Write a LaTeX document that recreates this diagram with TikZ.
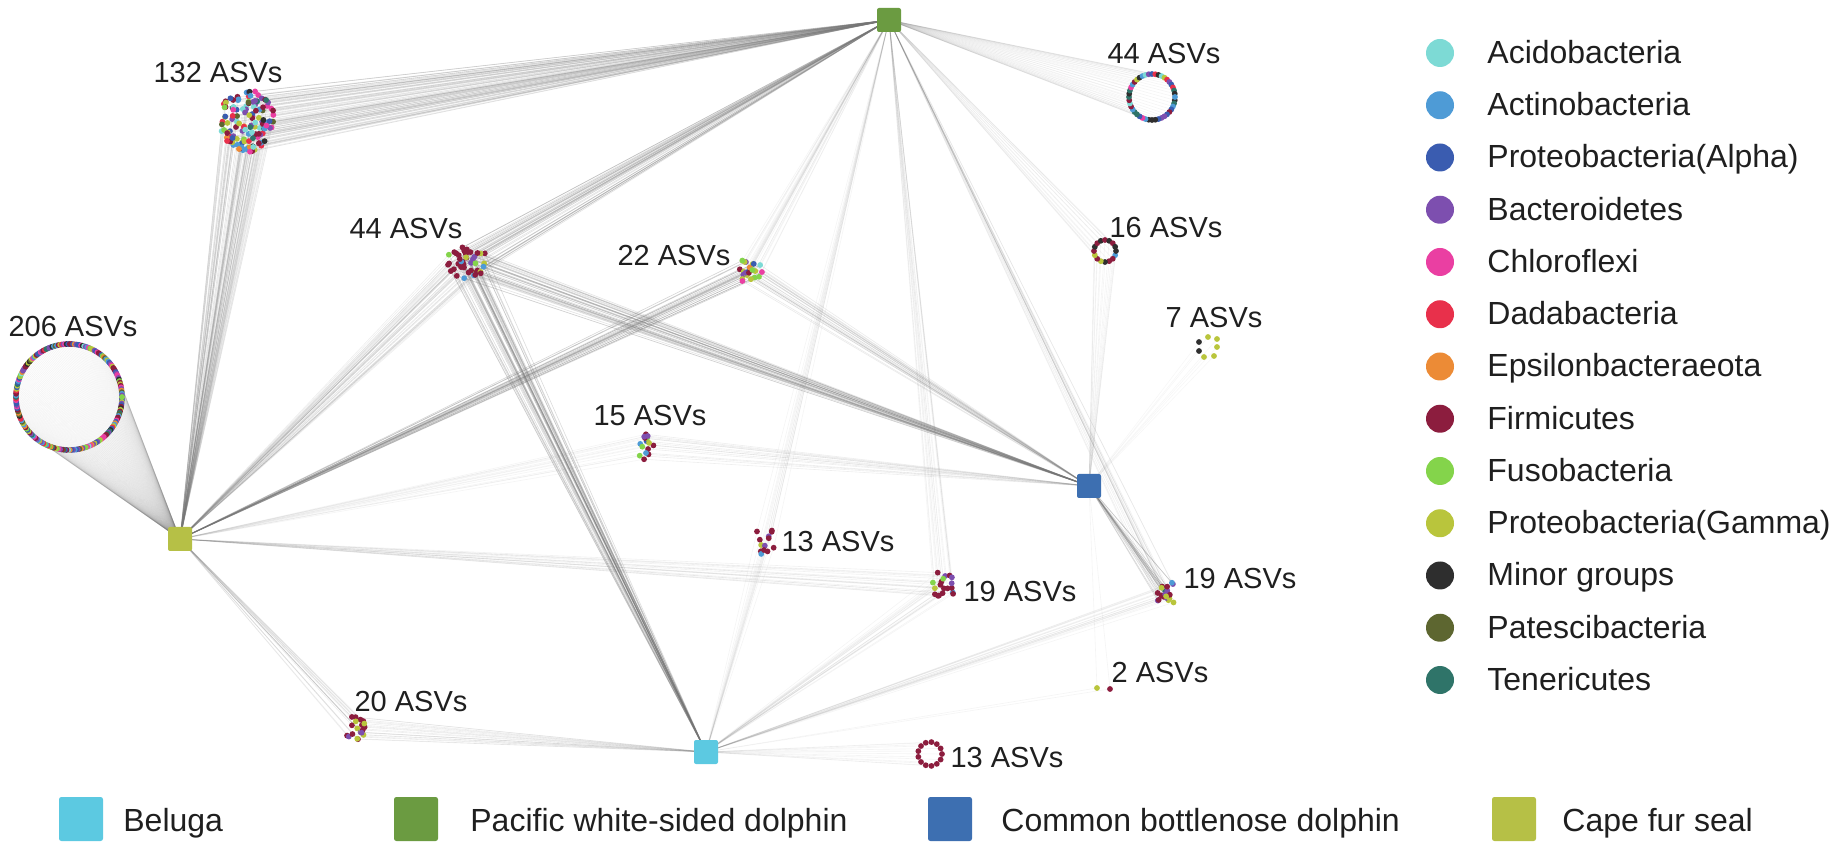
\documentclass[tikz,border=0pt]{standalone}
\usepackage{fontspec}
\setmainfont{Liberation Sans}
\pgfdeclarelayer{bg}
\pgfsetlayers{bg,main}
\definecolor{k0}{HTML}{7DDAD5}
\definecolor{k1}{HTML}{4E9BD6}
\definecolor{k2}{HTML}{3A5CB0}
\definecolor{k3}{HTML}{7D4FAF}
\definecolor{k4}{HTML}{EA3FA2}
\definecolor{k5}{HTML}{E8304B}
\definecolor{k6}{HTML}{EC8B36}
\definecolor{k7}{HTML}{8C1D3E}
\definecolor{k8}{HTML}{84D44B}
\definecolor{k9}{HTML}{B9C53C}
\definecolor{k10}{HTML}{2E2E2E}
\definecolor{k11}{HTML}{5D6630}
\definecolor{k12}{HTML}{2F7469}
\definecolor{beluga}{HTML}{5CC9E1}
\definecolor{pacific}{HTML}{6B9B41}
\definecolor{bottlenose}{HTML}{3D6FB1}
\definecolor{seal}{HTML}{B6C046}
\tikzset{
  dot/.style={circle,inner sep=0pt,minimum size=2.9pt,draw=none},
  sq/.style={rectangle,rounded corners=1pt,minimum size=12pt,inner sep=0pt,draw=none},
  lsq/.style={rectangle,rounded corners=1.2pt,minimum size=22pt,inner sep=0pt,draw=none},
  lab/.style={font=\fontsize{14.5pt}{16pt}\selectfont,inner sep=0pt,text=black!88},
  ltext/.style={font=\fontsize{16pt}{18pt}\selectfont,inner sep=0pt,text=black!88},
  ldot/.style={circle,inner sep=0pt,minimum size=14pt,draw=none},
  edge/.style={draw=black!55,line width=0.3pt},
}
\newcommand\blobcl[8]{%
  \foreach \i in {1,...,#2}{%
    \pgfmathsetmacro\ang{rnd*360}%
    \pgfmathsetmacro\rr{sqrt(rnd)}%
    \pgfmathtruncatemacro\ci{{#7}[random(0,#8-1)]}%
    \node[dot,fill=k\ci] (#1-\i) at ({#3+#5*\rr*cos(\ang)},{#4+#6*\rr*sin(\ang)}) {};
  }}
\newcommand\ringcl[7]{%
  \foreach \i in {1,...,#2}{%
    \pgfmathsetmacro\ang{360*(\i/#2)}%
    \pgfmathtruncatemacro\ci{{#6}[random(0,#7-1)]}%
    \node[dot,fill=k\ci] (#1-\i) at ({#3+#5*cos(\ang)},{#4+#5*sin(\ang)}) {};
  }}
\newcommand\edges[4]{%
  \foreach \i in {1,...,#2}{\draw[edge,opacity=#4] (#1-\i.center) -- (#3.center);}}
\begin{document}
\begin{tikzpicture}[x=0.5pt,y=-0.5pt]
\pgfmathsetseed{12345}
\useasboundingbox (0,0) rectangle (1842,849);
% species nodes
\node[sq,fill=pacific] (P) at (889,20) {};
\node[sq,fill=seal] (S) at (180,539) {};
\node[sq,fill=bottlenose] (B) at (1089,486) {};
\node[sq,fill=beluga] (W) at (706,752) {};
% clusters
\ringcl{A}{206}{69}{397}{53}{0,1,1,2,2,3,3,4,4,5,6,7,7,7,8,9,9,10,11,12}{20}
\node[lab] (lA) at (73,327) {206 ASVs};
\blobcl{Bc}{132}{247}{121}{28}{31}{0,1,1,2,2,3,3,4,4,5,6,7,7,7,8,9,9,10,11,12}{20}
\node[lab] (lB) at (218,73) {132 ASVs};
\ringcl{C}{44}{1152}{97}{23}{0,1,1,1,2,2,3,4,5,7,7,9,9,10,12}{15}
\node[lab] (lC) at (1164,54) {44 ASVs};
\blobcl{D}{44}{467}{261}{20}{18}{7,7,7,7,7,7,7,7,7,9,1,8,3}{13}
\node[lab] (lD) at (406,229) {44 ASVs};
\blobcl{E}{22}{748}{270}{15}{12}{9,9,8,8,1,1,2,4,3,7,7,6,0}{13}
\node[lab] (lE) at (674,256) {22 ASVs};
\ringcl{F}{16}{1105}{251}{11}{7,7,7,7,7,10,10,9,1}{9}
\node[lab] (lF) at (1166,228) {16 ASVs};
\foreach \i/\px/\py/\k in {1/1208/337/9,2/1217/339/9,3/1217/347/9,4/1214/356/9,5/1204/357/9,6/1199/342/10,7/1199/351/10}
  \node[dot,fill=k\k] (G-\i) at (\px,\py) {};
\node[lab] (lG) at (1214,318) {7 ASVs};
\blobcl{H}{15}{646}{446}{9}{14}{7,7,7,7,7,1,2,9,8,3}{10}
\node[lab] (lH) at (650,416) {15 ASVs};
\blobcl{I}{13}{765}{541}{11}{16}{7,7,7,7,7,7,1,3,9}{9}
\node[lab] (lI) at (838,542) {13 ASVs};
\blobcl{J}{19}{943}{585}{13}{14}{7,7,7,7,7,7,3,1,9,8}{10}
\node[lab] (lJ) at (1020,592) {19 ASVs};
\blobcl{K}{19}{1167}{593}{12}{12}{7,7,7,7,7,12,9,3,1}{9}
\node[lab] (lK) at (1240,579) {19 ASVs};
\node[dot,fill=k9] (L-1) at (1097,688) {};
\node[dot,fill=k7] (L-2) at (1110,689) {};
\node[lab] (lL) at (1160,673) {2 ASVs};
\blobcl{M}{20}{356}{728}{11}{14}{7,7,7,7,7,7,3,9}{8}
\node[lab] (lM) at (411,702) {20 ASVs};
\ringcl{N}{13}{930}{754}{12}{7,7}{2}
\node[lab] (lN) at (1007,758) {13 ASVs};
% connectors
\begin{pgfonlayer}{bg}
\edges{A}{206}{S}{0.08}
\edges{Bc}{132}{P}{0.12}
\edges{Bc}{132}{S}{0.1}
\edges{C}{44}{P}{0.08}
\edges{D}{44}{P}{0.2}
\edges{D}{44}{S}{0.12}
\edges{D}{44}{W}{0.25}
\edges{D}{44}{B}{0.2}
\edges{E}{22}{P}{0.08}
\edges{E}{22}{S}{0.3}
\edges{E}{22}{B}{0.15}
\edges{F}{16}{P}{0.08}
\edges{F}{16}{B}{0.08}
\edges{G}{7}{B}{0.06}
\edges{H}{15}{S}{0.08}
\edges{H}{15}{B}{0.12}
\edges{I}{13}{P}{0.08}
\edges{I}{13}{W}{0.08}
\edges{J}{19}{P}{0.08}
\edges{J}{19}{S}{0.1}
\edges{J}{19}{W}{0.08}
\edges{K}{19}{P}{0.1}
\edges{K}{19}{B}{0.25}
\edges{K}{19}{W}{0.08}
\edges{L}{2}{B}{0.08}
\edges{L}{2}{W}{0.08}
\edges{M}{20}{S}{0.12}
\edges{M}{20}{W}{0.12}
\edges{N}{13}{W}{0.08}
\end{pgfonlayer}
% right legend
\foreach \j/\k/\t in {0/0/Acidobacteria,1/1/Actinobacteria,2/2/Proteobacteria(Alpha),3/3/Bacteroidetes,4/4/Chloroflexi,5/5/Dadabacteria,6/6/Epsilonbacteraeota,7/7/Firmicutes,8/8/Fusobacteria,9/9/Proteobacteria(Gamma),10/10/Minor groups,11/11/Patescibacteria,12/12/Tenericutes}{
  \node[ldot,fill=k\k] (ld\j) at (1440,{53+52.25*\j}) {};
  \node[ltext,anchor=base west] (lt\j) at (1487,{63.5+52.25*\j}) {\t};
}
% bottom legend
\node[lsq,fill=beluga] (kW) at (81,819) {};
\node[ltext,anchor=base west] (tW) at (123,831) {Beluga};
\node[lsq,fill=pacific] (kP) at (416,819) {};
\node[ltext,anchor=base west] (tP) at (470,831) {Pacific white-sided dolphin};
\node[lsq,fill=bottlenose] (kB) at (950,819) {};
\node[ltext,anchor=base west] (tB) at (1001,831) {Common bottlenose dolphin};
\node[lsq,fill=seal] (kS) at (1514,819) {};
\node[ltext,anchor=base west] (tS) at (1562,831) {Cape fur seal};
\end{tikzpicture}
\end{document}
